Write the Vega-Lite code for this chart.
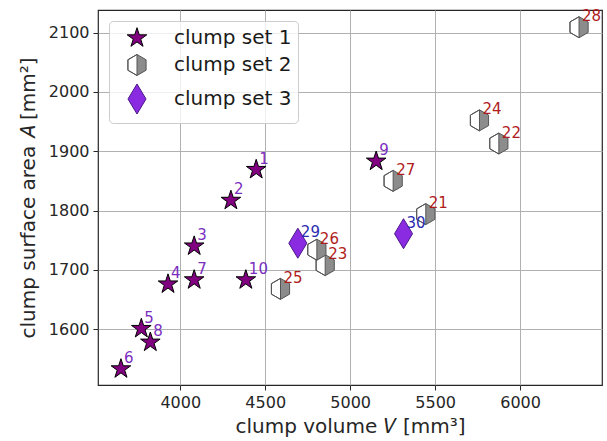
{
  "$schema": "https://vega.github.io/schema/vega-lite/v6.json",
  "width": 504,
  "height": 375,
  "autosize": {"type": "none"},
  "padding": {"left": 98, "top": 10, "right": 5, "bottom": 56},
  "config": {
    "font": "DejaVu Sans",
    "view": {"stroke": "#262626", "strokeWidth": 1.2},
    "axis": {
      "domain": false,
      "grid": true,
      "gridColor": "#b0b0b0",
      "gridWidth": 1,
      "tickColor": "#262626",
      "tickSize": 5,
      "tickWidth": 1,
      "labelFont": "DejaVu Sans",
      "labelFontSize": 16,
      "labelColor": "#262626",
      "labelPadding": 4,
      "titleFont": "DejaVu Sans",
      "titleFontSize": 20,
      "titleFontWeight": "normal",
      "titleColor": "#262626"
    }
  },
  "data": {
    "values": [
      {"id": 1, "set": "clump set 1", "V": 4447, "A": 1869},
      {"id": 2, "set": "clump set 1", "V": 4298, "A": 1817},
      {"id": 3, "set": "clump set 1", "V": 4082, "A": 1740},
      {"id": 4, "set": "clump set 1", "V": 3928, "A": 1676},
      {"id": 5, "set": "clump set 1", "V": 3771, "A": 1601},
      {"id": 6, "set": "clump set 1", "V": 3651, "A": 1533},
      {"id": 7, "set": "clump set 1", "V": 4082, "A": 1683},
      {"id": 8, "set": "clump set 1", "V": 3824, "A": 1578},
      {"id": 9, "set": "clump set 1", "V": 5153, "A": 1883},
      {"id": 10, "set": "clump set 1", "V": 4386, "A": 1683},
      {"id": 21, "set": "clump set 2", "V": 5445, "A": 1794},
      {"id": 22, "set": "clump set 2", "V": 5875, "A": 1913},
      {"id": 23, "set": "clump set 2", "V": 4853, "A": 1708},
      {"id": 24, "set": "clump set 2", "V": 5761, "A": 1952},
      {"id": 25, "set": "clump set 2", "V": 4590, "A": 1668},
      {"id": 26, "set": "clump set 2", "V": 4804, "A": 1734},
      {"id": 27, "set": "clump set 2", "V": 5253, "A": 1850},
      {"id": 28, "set": "clump set 2", "V": 6347, "A": 2109},
      {"id": 29, "set": "clump set 3", "V": 4692, "A": 1745},
      {"id": 30, "set": "clump set 3", "V": 5314, "A": 1761}
    ]
  },
  "encoding": {
    "x": {
      "field": "V",
      "type": "quantitative",
      "scale": {"domain": [3516, 6482], "nice": false, "zero": false},
      "axis": {"values": [4000, 4500, 5000, 5500, 6000], "format": "d", "title": "clump volume 𝑉 [mm³]", "titlePadding": 6}
    },
    "y": {
      "field": "A",
      "type": "quantitative",
      "scale": {"domain": [1506, 2138], "nice": false, "zero": false},
      "axis": {"values": [1600, 1700, 1800, 1900, 2000, 2100], "format": "d", "title": "clump surface area 𝐴 [mm²]", "titlePadding": 10}
    }
  },
  "layer": [
    {
      "transform": [{"filter": "datum.set === 'clump set 2'"}],
      "mark": {
        "type": "point",
        "shape": "M0,-1L0.866,-0.5L0.866,0.5L0,1L-0.866,0.5L-0.866,-0.5Z",
        "filled": true,
        "fill": "#ffffff",
        "strokeWidth": 0,
        "size": 441,
        "opacity": 1
      }
    },
    {
      "mark": {"type": "point", "filled": true, "opacity": 1, "strokeWidth": 1, "size": 441},
      "encoding": {
        "shape": {
          "field": "set",
          "type": "nominal",
          "scale": {
            "domain": ["clump set 1", "clump set 2", "clump set 3"],
            "range": [
              "M0,-0.98L0.22,-0.303L0.932,-0.303L0.356,0.116L0.576,0.793L0,0.374L-0.576,0.793L-0.356,0.116L-0.932,-0.303L-0.22,-0.303Z",
              "M0,-1L-0.866,-0.5L-0.866,0.5L0,1L-0.866,0.5L-0.866,-0.5ZM0,-1L0.866,-0.5L0.866,0.5L0,1Z",
              "M0,-1.43L0.86,0L0,1.43L-0.86,0Z"
            ]
          },
          "legend": {
            "title": null,
            "orient": "top-left",
            "offset": 11,
            "padding": 6,
            "fillColor": "rgba(255,255,255,0.8)",
            "strokeColor": "#cccccc",
            "cornerRadius": 4,
            "labelFont": "DejaVu Sans",
            "labelFontSize": 20,
            "labelColor": "#1a1a1a",
            "labelOffset": 26,
            "labelLimit": 300,
            "symbolSize": 441,
            "symbolOffset": 11,
            "symbolStrokeWidth": 1,
            "rowPadding": 3
          }
        },
        "fill": {
          "field": "set",
          "type": "nominal",
          "scale": {"domain": ["clump set 1", "clump set 2", "clump set 3"], "range": ["#800080", "#8c8c8c", "#8a2be2"]}
        },
        "stroke": {
          "field": "set",
          "type": "nominal",
          "scale": {"domain": ["clump set 1", "clump set 2", "clump set 3"], "range": ["#000000", "#555555", "#4b1a8a"]}
        }
      }
    },
    {
      "mark": {"type": "text", "align": "left", "baseline": "alphabetic", "dx": 3, "dy": -6, "fontSize": 15, "font": "DejaVu Sans"},
      "encoding": {
        "text": {"field": "id", "type": "nominal"},
        "color": {
          "field": "set",
          "type": "nominal",
          "scale": {"domain": ["clump set 1", "clump set 2", "clump set 3"], "range": ["#7b2fbf", "#b01c1c", "#2b2bb0"]},
          "legend": null
        }
      }
    }
  ]
}
